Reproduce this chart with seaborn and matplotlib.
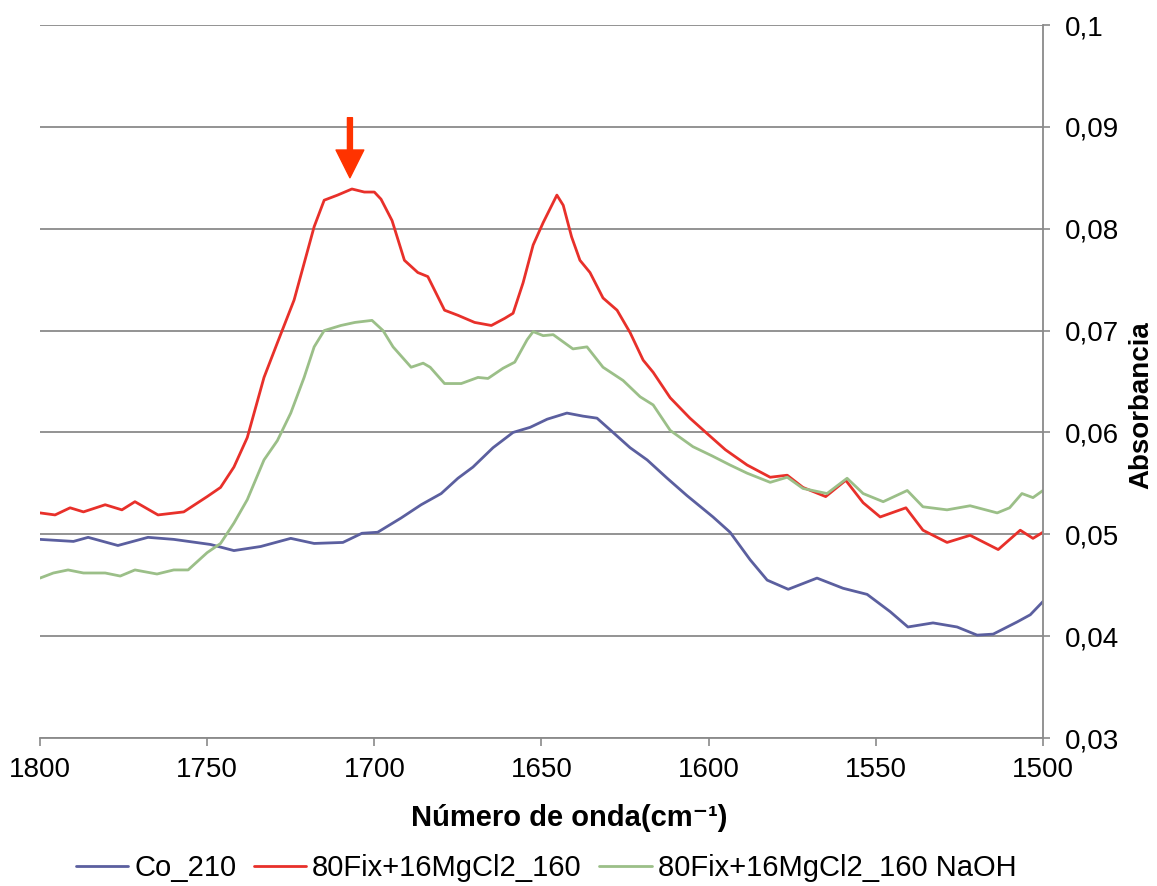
import matplotlib
matplotlib.use("Agg")
import matplotlib.pyplot as plt
import seaborn as sns
import pandas as pd

# Wavenumbers (cm-1) and absorbance values for each spectrum
co_wn = [1800, 1790, 1785.6, 1776.7, 1767.7, 1760, 1749, 1742, 1734, 1725, 1718,
         1709.4, 1703.7, 1699, 1692, 1686, 1680, 1675, 1670.5, 1664.5, 1658.5,
         1653.4, 1648.3, 1642.4, 1637.6, 1633.4, 1628.6, 1623.5, 1618.4, 1612.4,
         1606.5, 1598.7, 1593.6, 1587.6, 1582.5, 1576.2, 1567.6, 1559.8, 1552.6,
         1545.7, 1540.4, 1532.9, 1525.7, 1519.7, 1514.9, 1507.7, 1503.8, 1500]
co_abs = [0.0495, 0.0493, 0.0497, 0.0489, 0.0497, 0.0495, 0.0490, 0.0484, 0.0488,
          0.0496, 0.0491, 0.0492, 0.0501, 0.0502, 0.0516, 0.0529, 0.0540, 0.0555,
          0.0566, 0.0585, 0.0600, 0.0605, 0.0613, 0.0619, 0.0616, 0.0614, 0.0600,
          0.0585, 0.0573, 0.0555, 0.0538, 0.0517, 0.0502, 0.0475, 0.0455, 0.0446,
          0.0457, 0.0447, 0.0441, 0.0424, 0.0409, 0.0413, 0.0409, 0.0401, 0.0402,
          0.0414, 0.0421, 0.0434]

mg_wn = [1800, 1795.5, 1791, 1787, 1780.5, 1775.5, 1771.6, 1764.7, 1757, 1750, 1746,
         1742, 1738, 1733, 1729, 1724, 1718, 1715, 1711, 1706.7, 1703, 1700, 1698,
         1694.7, 1691, 1687, 1684, 1679, 1675, 1670, 1665, 1661, 1658.5, 1655.5,
         1652.5, 1649.5, 1645.4, 1643.5, 1641, 1638.5, 1635.5, 1631.6, 1627.4,
         1623.5, 1619.6, 1616.6, 1611.5, 1605.6, 1600.5, 1595, 1588.5, 1581.6,
         1576.5, 1571.8, 1565, 1559, 1553.8, 1548.7, 1541, 1535.9, 1528.7, 1521.8,
         1513.4, 1506.8, 1503, 1500]
mg_abs = [0.0521, 0.0519, 0.0526, 0.0522, 0.0529, 0.0524, 0.0532, 0.0519, 0.0522,
          0.0537, 0.0546, 0.0566, 0.0595, 0.0654, 0.0688, 0.0730, 0.0802, 0.0828,
          0.0833, 0.0839, 0.0836, 0.0836, 0.0829, 0.0808, 0.0769, 0.0757, 0.0753,
          0.0720, 0.0715, 0.0708, 0.0705, 0.0712, 0.0717, 0.0747, 0.0784, 0.0806,
          0.0833, 0.0823, 0.0792, 0.0769, 0.0757, 0.0732, 0.0720, 0.0698, 0.0671,
          0.0659, 0.0634, 0.0614, 0.0599, 0.0583, 0.0568, 0.0556, 0.0558, 0.0546,
          0.0537, 0.0553, 0.0531, 0.0517, 0.0526, 0.0504, 0.0492, 0.0499, 0.0485,
          0.0504, 0.0496, 0.0502]

naoh_wn = [1800, 1796, 1791.6, 1787, 1780.5, 1776, 1771.6, 1765, 1760, 1755.7, 1750,
           1746, 1742, 1738, 1733, 1729, 1725, 1721, 1718, 1715, 1710, 1705.8,
           1700.7, 1697.4, 1694.4, 1689, 1685.4, 1683.3, 1679, 1674, 1669, 1666,
           1661.5, 1658, 1654.3, 1652.5, 1649.5, 1646.5, 1640.6, 1636.4, 1631.6,
           1625.6, 1620.5, 1616.6, 1611.5, 1604.7, 1599, 1593.6, 1588.5, 1581.6,
           1576.5, 1571.8, 1564.6, 1558.6, 1553.8, 1547.8, 1540.6, 1535.9, 1528.7,
           1521.8, 1513.7, 1510, 1506.3, 1503, 1500]
naoh_abs = [0.0457, 0.0462, 0.0465, 0.0462, 0.0462, 0.0459, 0.0465, 0.0461, 0.0465,
            0.0465, 0.0482, 0.0491, 0.0511, 0.0534, 0.0573, 0.0592, 0.0619, 0.0654,
            0.0684, 0.0700, 0.0705, 0.0708, 0.0710, 0.0700, 0.0684, 0.0664, 0.0668,
            0.0664, 0.0648, 0.0648, 0.0654, 0.0653, 0.0663, 0.0669, 0.0691, 0.0699,
            0.0695, 0.0696, 0.0682, 0.0684, 0.0664, 0.0651, 0.0635, 0.0627, 0.0602,
            0.0586, 0.0577, 0.0568, 0.0560, 0.0551, 0.0556, 0.0545, 0.0540, 0.0555,
            0.0540, 0.0532, 0.0543, 0.0527, 0.0524, 0.0528, 0.0521, 0.0526, 0.0540,
            0.0536, 0.0543]

series_names = ["Co_210", "80Fix+16MgCl2_160", "80Fix+16MgCl2_160 NaOH"]
series_colors = ["#5b5f9f", "#e8302a", "#9bbf88"]

x_ticks = [1800, 1750, 1700, 1650, 1600, 1550, 1500]
y_ticks = [0.03, 0.04, 0.05, 0.06, 0.07, 0.08, 0.09, 0.1]
y_tick_labels = ["0,03", "0,04", "0,05", "0,06", "0,07", "0,08", "0,09", "0,1"]

# Marked band position (arrow)
band_wn = 1707.3
band_top = 0.0909
band_tip = 0.0850

frames = []
for name, wn, ab in zip(series_names,
                        [co_wn, mg_wn, naoh_wn],
                        [co_abs, mg_abs, naoh_abs]):
    frames.append(pd.DataFrame({"wn": wn, "abs": ab, "serie": name}))
df = pd.concat(frames, ignore_index=True)

sns.set_style("white")
plt.rcParams["font.family"] = ["Liberation Sans", "DejaVu Sans"]
plt.rcParams["text.color"] = "black"
plt.rcParams["axes.labelcolor"] = "black"
plt.rcParams["xtick.color"] = "black"
plt.rcParams["ytick.color"] = "black"

fig = plt.figure(figsize=(11.57, 8.86), dpi=100)
W, H = 1157, 886
ax = fig.add_axes([40 / W, 1 - 738 / H, (1043 - 40) / W, (738 - 25) / H])

sns.lineplot(data=df, x="wn", y="abs", hue="serie", hue_order=series_names,
             palette=series_colors, sort=False, estimator=None, lw=2.0,
             ax=ax, legend=False)

ax.set_xlim(1800, 1500)
ax.set_ylim(0.03, 0.1)
ax.set_xticks(x_ticks)
ax.set_xticklabels([str(t) for t in x_ticks])
ax.yaxis.tick_right()
ax.set_yticks(y_ticks)
ax.set_yticklabels(y_tick_labels)

grid_c = "#8a8a8a"
ax.yaxis.grid(True, color=grid_c, lw=1.3)
ax.xaxis.grid(False)
ax.set_axisbelow(True)
for side in ["top", "left"]:
    ax.spines[side].set_visible(False)
for side in ["right", "bottom"]:
    ax.spines[side].set_color(grid_c)
    ax.spines[side].set_linewidth(1.3)

ax.tick_params(axis="x", direction="out", length=6, width=1.2, color=grid_c,
               labelsize=20, pad=8, bottom=True, labelcolor="black")
ax.tick_params(axis="y", direction="out", length=5, width=1.2, color=grid_c,
               labelsize=20, pad=11, right=True, left=False, labelcolor="black")

ax.set_xlabel("Número de onda(cm⁻¹)", fontsize=21, fontweight="bold", color="black")
ax.xaxis.set_label_coords(0.528, -0.112)
ax.xaxis.label.set_verticalalignment("center")

ax.yaxis.set_label_position("right")
ax.set_ylabel("Absorbancia", fontsize=20, fontweight="bold", color="black")
ax.yaxis.set_label_coords(1.0977, 0.467)
ax.yaxis.label.set_verticalalignment("center")

ax.annotate("", xy=(band_wn, band_tip), xytext=(band_wn, band_top),
            arrowprops=dict(arrowstyle="simple,head_width=1.0,head_length=1.0,tail_width=0.18",
                            color="#ff3300", shrinkA=0, shrinkB=0, mutation_scale=20))

handles = [plt.Line2D([], [], color=c, lw=2.0) for c in series_colors]
leg = fig.legend(handles, series_names, loc="center", bbox_to_anchor=(546 / W, 1 - 868 / H),
                 ncol=3, frameon=False, fontsize=21, handlelength=1.8,
                 handletextpad=0.2, columnspacing=0.6)
for t in leg.get_texts():
    t.set_color("black")

fig.savefig("out.png", dpi=100)
